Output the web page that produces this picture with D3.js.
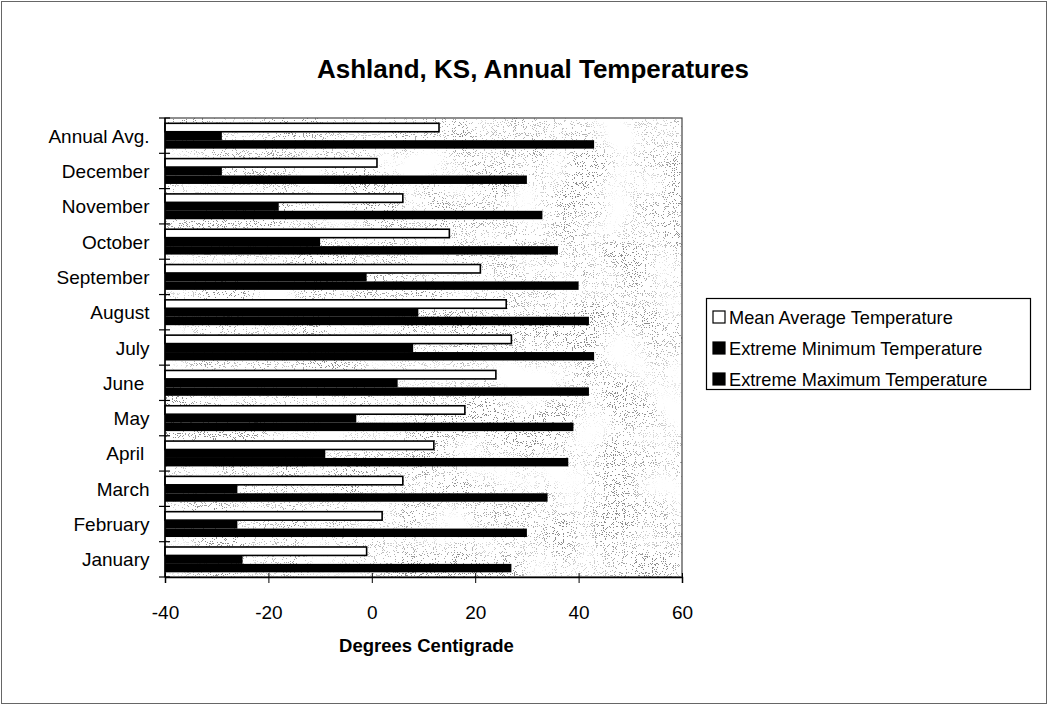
<!DOCTYPE html>
<html>
<head>
<meta charset="utf-8">
<script src="https://cdn.jsdelivr.net/npm/d3@7"></script>
<style>
  html, body { margin: 0; padding: 0; background: #fff; }
  svg { display: block; font-family: "Liberation Sans", Arial, Helvetica, sans-serif; }
  .lbl { white-space: pre; }
</style>
</head>
<body>
<svg id="chart" width="1048" height="705"></svg>
<script>
// ---- data ----
const categories = ["Annual Avg.", "December", "November", "October", "September", "August",
                    "July", "June ", "May", "April ", "March", "February", "January"];
const seriesNames = ["Mean Average Temperature", "Extreme Minimum Temperature", "Extreme Maximum Temperature"];
const meanTemp = [13, 1, 6, 15, 21, 26, 27, 24, 18, 12, 6, 2, -1];
const minTemp  = [-29, -29, -18, -10, -1, 9, 8, 5, -3, -9, -26, -26, -25];
const maxTemp  = [43, 30, 33, 36, 40, 42, 43, 42, 39, 38, 34, 30, 27];
const xTicks = [-40, -20, 0, 20, 40, 60];
const titleText = "Ashland, KS, Annual Temperatures";
const xAxisTitle = "Degrees Centigrade";

const seriesValues = [meanTemp, minTemp, maxTemp];
const seriesFill = ["#ffffff", "#000000", "#000000"];

const svg = d3.select("#chart");
const W = 1048, H = 705;
const plot = { left: 165, right: 682, top: 118, bottom: 577 };

// outer frame
svg.append("rect").attr("x", 1.5).attr("y", 1.5).attr("width", W - 3).attr("height", H - 3)
  .attr("fill", "#fff").attr("stroke", "#666").attr("stroke-width", 1);

// stipple texture (decorative)
const defs = svg.append("defs");
const f = defs.append("filter").attr("id", "stip")
  .attr("x", 0).attr("y", 0).attr("width", 1).attr("height", 1)
  .attr("color-interpolation-filters", "sRGB");
f.append("feTurbulence").attr("type", "fractalNoise").attr("baseFrequency", "1.1")
  .attr("numOctaves", 1).attr("seed", 11).attr("result", "fine");
f.append("feColorMatrix").attr("in", "fine").attr("type", "matrix")
  .attr("values", "0 0 0 0 0.4  0 0 0 0 0.4  0 0 0 0 0.4  12 0 0 0 -7.0").attr("result", "a");
const ct = f.append("feComponentTransfer").attr("in", "a").attr("result", "dots");
ct.append("feFuncA").attr("type", "discrete").attr("tableValues", "0 0.75");
f.append("feTurbulence").attr("type", "fractalNoise").attr("baseFrequency", "0.02")
  .attr("numOctaves", 2).attr("seed", 5).attr("result", "coarse");
f.append("feColorMatrix").attr("in", "coarse").attr("type", "matrix")
  .attr("values", "0 0 0 0 0  0 0 0 0 0  0 0 0 0 0  2.4 0 0 0 -0.6").attr("result", "mask");
f.append("feComposite").attr("in", "dots").attr("in2", "mask").attr("operator", "in");

// scales
const x = d3.scaleLinear().domain([xTicks[0], xTicks[xTicks.length - 1]]).range([plot.left, plot.right]);
const y = d3.scaleBand().domain(categories).range([plot.top, plot.bottom]).padding(0);
const bw = y.bandwidth();
const ySub = d3.scaleBand().domain(seriesNames).range([bw * 0.15, bw * 0.868]).padding(0);

// plot background
svg.append("rect").attr("x", plot.left).attr("y", plot.top)
  .attr("width", plot.right - plot.left).attr("height", plot.bottom - plot.top)
  .attr("fill", "#ffffff");
svg.append("rect").attr("x", plot.left).attr("y", plot.top)
  .attr("width", plot.right - plot.left).attr("height", plot.bottom - plot.top)
  .attr("fill", "#000").attr("filter", "url(#stip)");
svg.append("rect").attr("x", plot.left).attr("y", plot.top)
  .attr("width", plot.right - plot.left).attr("height", plot.bottom - plot.top)
  .attr("fill", "none").attr("stroke", "#444").attr("stroke-width", 1.2);

// bars
const base = x.domain()[0];
seriesNames.forEach((s, si) => {
  const g = svg.append("g").attr("class", "series-" + si);
  g.selectAll("rect").data(categories.map((c, i) => ({ c, v: seriesValues[si][i] })))
    .join("rect")
    .attr("x", x(base))
    .attr("y", d => y(d.c) + ySub(s))
    .attr("width", d => x(d.v) - x(base))
    .attr("height", ySub.bandwidth())
    .attr("fill", seriesFill[si])
    .attr("stroke", si === 0 ? "#000" : "none")
    .attr("stroke-width", si === 0 ? 1.6 : 0);
});

// x axis
const xAxis = d3.axisBottom(x).tickValues(xTicks).tickSize(6).tickFormat(d => String(d));
const gx = svg.append("g").attr("transform", `translate(0,${plot.bottom})`).call(xAxis);
gx.select(".domain").attr("stroke", "#000").attr("stroke-width", 1.5);
gx.selectAll(".tick line").attr("stroke", "#000").attr("y1", -4).attr("y2", 6);
gx.selectAll(".tick text").attr("font-size", 19).attr("fill", "#000").attr("dy", 0).attr("y", 42)
  .attr("font-family", "'Liberation Sans', Arial, sans-serif");

// y axis (ticks at category boundaries)
const boundaries = categories.map(c => y(c)).concat([plot.bottom]);
svg.append("line").attr("x1", plot.left).attr("x2", plot.left)
  .attr("y1", plot.top).attr("y2", plot.bottom).attr("stroke", "#000").attr("stroke-width", 1.5);
svg.append("g").selectAll("line").data(boundaries).join("line")
  .attr("x1", plot.left - 6).attr("x2", plot.left + 5)
  .attr("y1", d => d).attr("y2", d => d).attr("stroke", "#000").attr("stroke-width", 1.2);
svg.append("g").selectAll("text").data(categories).join("text")
  .attr("class", "lbl")
  .attr("x", 149.5)
  .attr("y", c => y(c) + bw / 2 + 7)
  .attr("text-anchor", "end")
  .attr("font-size", 19).attr("fill", "#000")
  .text(c => c);

// title
svg.append("text").attr("x", 533).attr("y", 78).attr("text-anchor", "middle")
  .attr("font-size", 26).attr("font-weight", "bold").attr("fill", "#000").text(titleText);

// x axis title
svg.append("text").attr("x", (plot.left + plot.right) / 2 + 3).attr("y", 652).attr("text-anchor", "middle")
  .attr("font-size", 18.5).attr("font-weight", "bold").attr("fill", "#000").text(xAxisTitle);

// legend
const lg = svg.append("g").attr("transform", "translate(706,298)");
lg.append("rect").attr("x", 0.5).attr("y", 0.5).attr("width", 324).attr("height", 91)
  .attr("fill", "#fff").attr("stroke", "#000").attr("stroke-width", 1.2);
const rowY = [19, 50, 81];
seriesNames.forEach((s, i) => {
  lg.append("rect").attr("x", 7).attr("y", rowY[i] - 6).attr("width", 12).attr("height", 12)
    .attr("fill", seriesFill[i]).attr("stroke", "#000").attr("stroke-width", 1.2);
  lg.append("text").attr("x", 23).attr("y", rowY[i] + 7)
    .attr("font-size", 18.2).attr("fill", "#000").text(s);
});
</script>
</body>
</html>
